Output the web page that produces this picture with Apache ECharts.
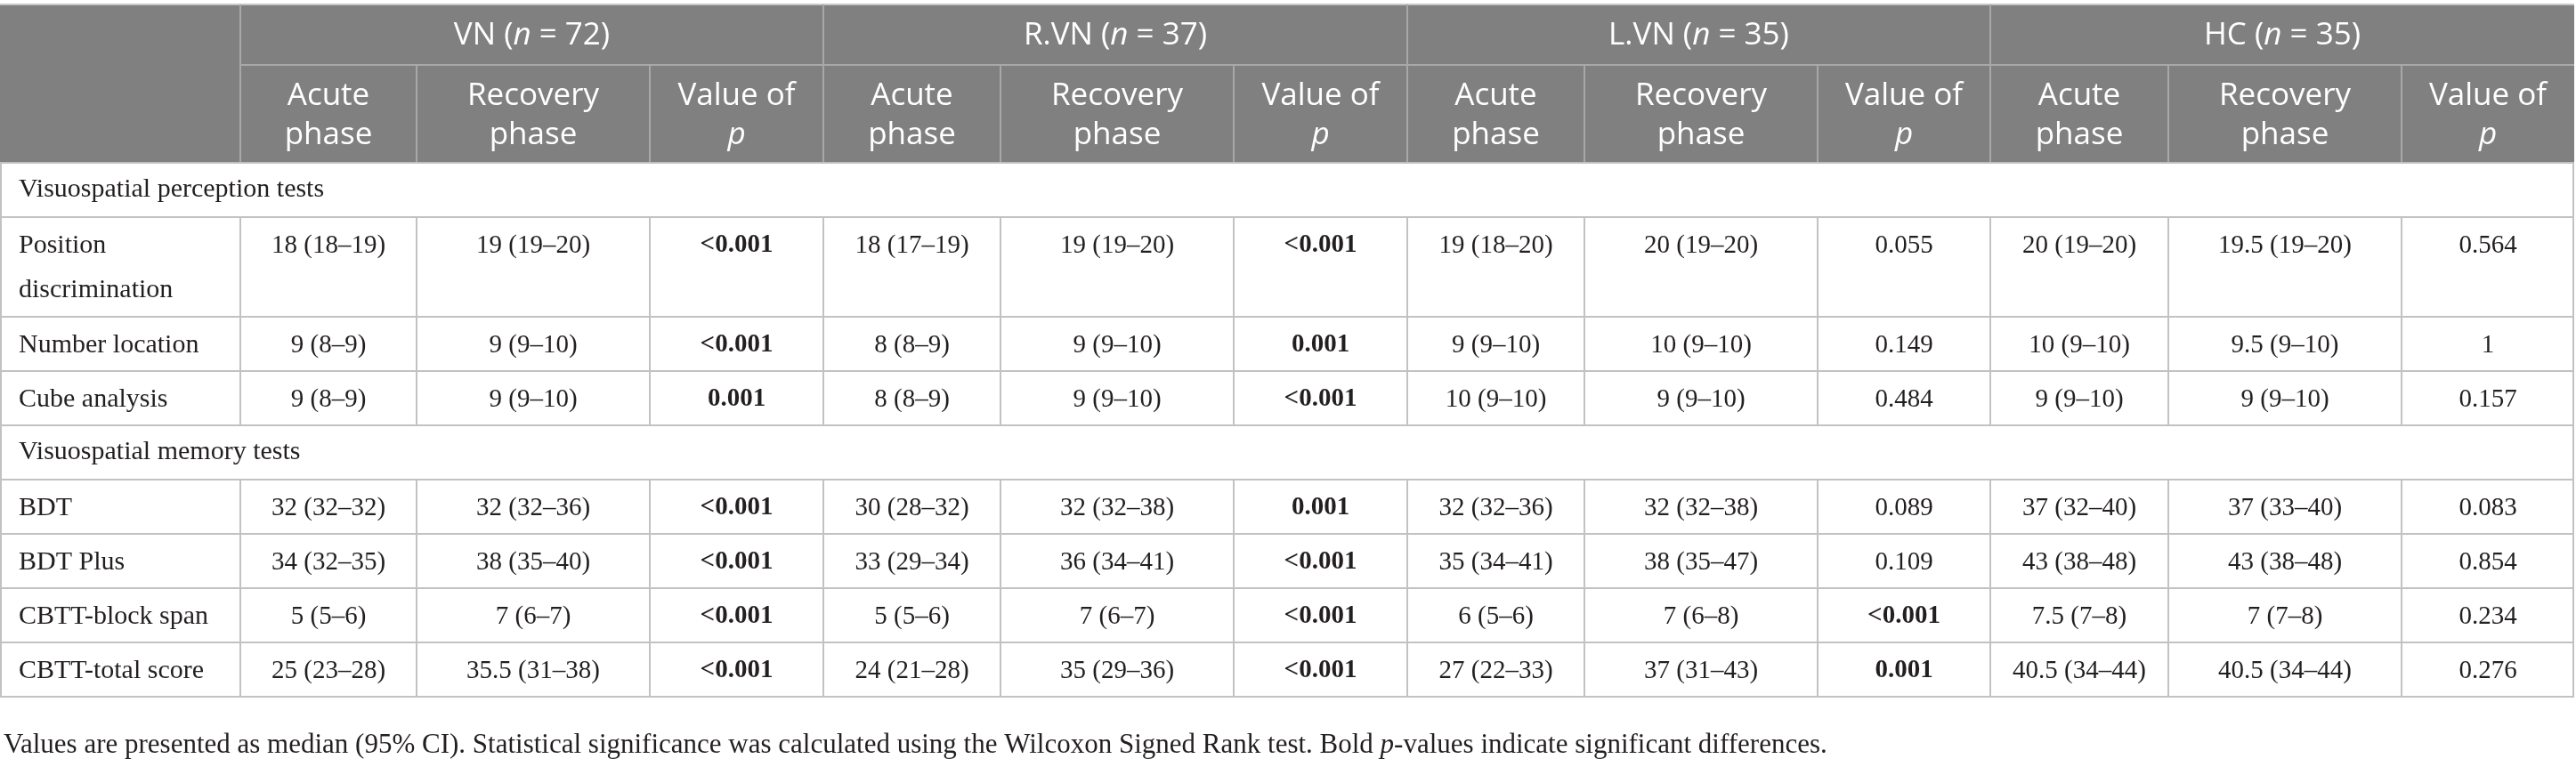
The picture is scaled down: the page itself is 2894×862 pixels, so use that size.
<!DOCTYPE html>
<html><head><meta charset="utf-8">
<script src="https://cdn.jsdelivr.net/npm/echarts/dist/echarts.min.js"></script>
<style>html,body{margin:0;padding:0;background:#fff}#c{width:2894px;height:862px}</style>
</head><body><div id="c"></div>
<script>
// ---------------- data ----------------
const groups = ['VN', 'R.VN', 'L.VN', 'HC'];
const groupN = [72, 37, 35, 35];
const subHeaders = [['Acute', 'phase'], ['Recovery', 'phase'], ['Value of', '{i|p}']];
const sections = ['Visuospatial perception tests', 'Visuospatial memory tests'];
const perceptionTests = ['Position discrimination', 'Number location', 'Cube analysis'];
const memoryTests = ['BDT', 'BDT Plus', 'CBTT-block span', 'CBTT-total score'];

const vnAcute    = ['18 (18–19)', '9 (8–9)', '9 (8–9)', '32 (32–32)', '34 (32–35)', '5 (5–6)', '25 (23–28)'];
const vnRecovery = ['19 (19–20)', '9 (9–10)', '9 (9–10)', '32 (32–36)', '38 (35–40)', '7 (6–7)', '35.5 (31–38)'];
const vnP        = ['<0.001', '<0.001', '0.001', '<0.001', '<0.001', '<0.001', '<0.001'];

const rvnAcute    = ['18 (17–19)', '8 (8–9)', '8 (8–9)', '30 (28–32)', '33 (29–34)', '5 (5–6)', '24 (21–28)'];
const rvnRecovery = ['19 (19–20)', '9 (9–10)', '9 (9–10)', '32 (32–38)', '36 (34–41)', '7 (6–7)', '35 (29–36)'];
const rvnP        = ['<0.001', '0.001', '<0.001', '0.001', '<0.001', '<0.001', '<0.001'];

const lvnAcute    = ['19 (18–20)', '9 (9–10)', '10 (9–10)', '32 (32–36)', '35 (34–41)', '6 (5–6)', '27 (22–33)'];
const lvnRecovery = ['20 (19–20)', '10 (9–10)', '9 (9–10)', '32 (32–38)', '38 (35–47)', '7 (6–8)', '37 (31–43)'];
const lvnP        = ['0.055', '0.149', '0.484', '0.089', '0.109', '<0.001', '0.001'];

const hcAcute    = ['20 (19–20)', '10 (9–10)', '9 (9–10)', '37 (32–40)', '43 (38–48)', '7.5 (7–8)', '40.5 (34–44)'];
const hcRecovery = ['19.5 (19–20)', '9.5 (9–10)', '9 (9–10)', '37 (33–40)', '43 (38–48)', '7 (7–8)', '40.5 (34–44)'];
const hcP        = ['0.564', '1', '0.157', '0.083', '0.854', '0.234', '0.276'];

const footnote = 'Values are presented as median (95% CI). Statistical significance was calculated using the Wilcoxon Signed Rank test. Bold {i|p}-values indicate significant differences.';

// ---------------- layout ----------------
const colEdges = [0, 270, 468, 730, 925, 1124, 1386, 1581, 1780, 2042, 2236, 2436, 2698, 2892];
const headTop = 5, headMid = 73, headBot = 183;
const rowH = 61, wrapRowH = 112;
const SERIF = '"Liberation Serif", "Times New Roman", serif';
const SANS = '"Open Sans", "Noto Sans", sans-serif';
const HEAD_BG = '#808080', HEAD_LINE = '#a8a8a8', BODY_LINE = '#c2c2c2', TXT = '#231f20';
const FS = 29, LFS = 30, HFS = 35, NFS = 31;

const columns = [
  [vnAcute, vnRecovery, vnP], [rvnAcute, rvnRecovery, rvnP],
  [lvnAcute, lvnRecovery, lvnP], [hcAcute, hcRecovery, hcP]
];

const els = [];
function line(x1, y1, x2, y2, c, w) {
  els.push({ type: 'line', silent: true, shape: { x1, y1, x2, y2 }, style: { stroke: c, lineWidth: w || 2 } });
}
function text(x, y, t, o) {
  o = o || {};
  const st = {
    text: t, fill: o.fill || TXT, fontFamily: o.font || SERIF, fontSize: o.size || FS,
    fontWeight: o.weight || 'normal', align: o.align || 'center', verticalAlign: o.va || 'middle'
  };
  if (o.rich) st.rich = o.rich;
  if (o.width) { st.width = o.width; st.overflow = 'break'; }
  if (o.lineHeight) st.lineHeight = o.lineHeight;
  els.push({ type: 'text', silent: true, x, y, style: st, z: 10 });
}

// header background
els.push({ type: 'rect', silent: true, shape: { x: 0, y: headTop, width: colEdges[colEdges.length - 1], height: headBot - headTop }, style: { fill: HEAD_BG } });
const headRich = (size) => ({ i: { fontStyle: 'italic', fontFamily: SANS, fontSize: size, fill: '#fff' } });

groups.forEach((g, gi) => {
  const x0 = colEdges[1 + gi * 3], x1 = colEdges[4 + gi * 3];
  text((x0 + x1) / 2, (headTop + headMid) / 2 + 1, g + ' ({i|n} = ' + groupN[gi] + ')', { fill: '#fff', font: SANS, size: HFS, rich: headRich(HFS) });
  subHeaders.forEach((sh, si) => {
    const a = colEdges[1 + gi * 3 + si], b = colEdges[2 + gi * 3 + si];
    text((a + b) / 2, 108, sh[0], { fill: '#fff', font: SANS, size: HFS, rich: headRich(HFS) });
    text((a + b) / 2, 152, sh[1], { fill: '#fff', font: SANS, size: HFS, rich: headRich(HFS) });
  });
});
// header lines
line(0, headTop, colEdges[13], headTop, '#c8c8c8', 2);
line(colEdges[1], headMid, colEdges[13], headMid, HEAD_LINE, 2);
colEdges.forEach((x, i) => {
  if (i === 0 || i === 13) return;
  const full = (i - 1) % 3 === 0;
  line(x, full ? headTop : headMid, x, headBot, HEAD_LINE, 2);
});

// body
let y = headBot;
let pIdx = 0;
const bodyTop = headBot;
line(0, y, colEdges[13], y, BODY_LINE, 2);
[[sections[0], perceptionTests], [sections[1], memoryTests]].forEach(([sec, tests]) => {
  // section row
  text(21, y + rowH / 2, sec, { align: 'left', size: LFS });
  y += rowH;
  line(0, y, colEdges[13], y, BODY_LINE, 2);
  tests.forEach((t) => {
    const h = t === 'Position discrimination' ? wrapRowH : rowH;
    text(21, y + 7, t, { align: 'left', va: 'top', size: LFS, width: colEdges[1] - 42, lineHeight: 50 });
    columns.forEach((grp, gi) => {
      grp.forEach((arr, si) => {
        const a = colEdges[1 + gi * 3 + si], b = colEdges[2 + gi * 3 + si];
        const v = arr[pIdx];
        let bold = false;
        if (si === 2) bold = v.charAt(0) === '<' || parseFloat(v) < 0.05;
        text((a + b) / 2, y + 32, v, { weight: bold ? 'bold' : 'normal' });
      });
    });
    for (let i = 1; i < 13; i++) line(colEdges[i], y, colEdges[i], y + h, BODY_LINE, 2);
    y += h;
    line(0, y, colEdges[13], y, BODY_LINE, 2);
    pIdx++;
  });
});
// outer borders of body
line(1, bodyTop, 1, y, BODY_LINE, 2);
line(colEdges[13] - 1, bodyTop, colEdges[13] - 1, y, BODY_LINE, 2);

// footnote
text(4, 838, footnote, { align: 'left', size: NFS, rich: { i: { fontStyle: 'italic', fontFamily: SERIF, fontSize: NFS, fill: TXT } } });

const chart = echarts.init(document.getElementById('c'), null, { renderer: 'canvas' });
chart.setOption({ backgroundColor: '#ffffff', animation: false, graphic: { elements: els } });
</script></body></html>
